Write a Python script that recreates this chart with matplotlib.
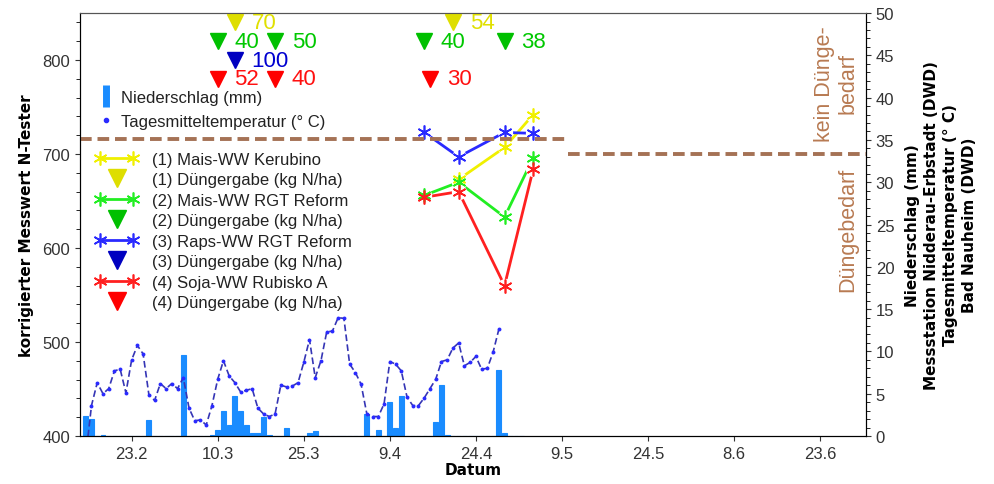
import datetime as dt
import numpy as np
import pandas as pd
import matplotlib
matplotlib.use('Agg')
import matplotlib.pyplot as plt
from matplotlib.lines import Line2D
from matplotlib.legend_handler import HandlerLine2D
from matplotlib.ticker import MultipleLocator

plt.rcParams['font.family'] = ['Liberation Sans', 'DejaVu Sans']

# N-Tester measurements (corrected value)
mess_dates = pd.to_datetime(['2023-04-15', '2023-04-21', '2023-04-29', '2023-05-04'])
mais_kerubino = [np.nan, 673, 707, 742]
mais_rgt = [656, 670, 633, 696]
raps_rgt = [723, 697, 723, 722]
soja_rubisko = [654, 660, 560, 684]

# fertilizer applications (kg N/ha)
dg1_dates = pd.to_datetime(['2023-03-13', '2023-04-20'])
dg1_kg = [70, 54]
dg2_dates = pd.to_datetime(['2023-03-10', '2023-03-20', '2023-04-15', '2023-04-29'])
dg2_kg = [40, 50, 40, 38]
dg3_dates = pd.to_datetime(['2023-03-13'])
dg3_kg = [100]
dg4_dates = pd.to_datetime(['2023-03-10', '2023-03-20', '2023-04-16'])
dg4_kg = [52, 40, 30]

# thresholds
grenze_dates = pd.to_datetime(['2023-02-14', '2023-05-10', '2023-07-01'])
grenze_werte = [716, 700]

# precipitation (mm), days without entry = 0
rain_days = pd.to_datetime(['2023-02-15', '2023-02-16', '2023-02-18', '2023-02-26', '2023-03-04',
                            '2023-03-09', '2023-03-10', '2023-03-11', '2023-03-12', '2023-03-13',
                            '2023-03-14', '2023-03-15', '2023-03-16', '2023-03-17', '2023-03-18',
                            '2023-03-19', '2023-03-22', '2023-03-26', '2023-03-27', '2023-04-05',
                            '2023-04-07', '2023-04-09', '2023-04-10', '2023-04-11', '2023-04-17',
                            '2023-04-18', '2023-04-19', '2023-04-28', '2023-04-29'])
rain_mm = [2.4, 2.0, 0.15, 1.85, 9.6, 0.15, 0.7, 3.0, 1.3, 4.7,
           2.9, 1.3, 0.4, 0.4, 2.3, 0.15, 0.9, 0.4, 0.6, 2.6,
           0.7, 4.0, 1.0, 4.7, 1.6, 6.0, 0.15, 7.8, 0.4]
rain = pd.Series(0.0, index=pd.date_range('2023-02-14', '2023-05-02'))
rain[rain_days] = rain_mm

# daily mean temperature (°C), from 15.2.
temp = [-2.4, 3.6, 6.3, 5.0, 5.6, 7.7, 7.9, 5.1, 9.0, 10.7, 9.7, 4.9, 4.2, 6.2,
        5.6, 6.2, 5.6, 6.9, 3.3, 1.8, 1.9, 1.3, 3.6, 6.7, 8.9, 7.1, 6.3, 5.2, 5.4, 5.6,
        3.3, 2.6, 2.3, 2.6, 6.0, 5.8, 5.9, 6.3, 8.7, 11.4, 6.9, 8.9, 12.3, 12.4, 14.0,
        13.9, 8.5, 7.5, 6.1, 2.6, 2.3, 2.3, 3.8, 8.8, 8.5, 7.7, 4.6, 3.6, 3.6, 4.5,
        5.6, 6.7, 8.8, 9.0, 10.4, 11.0, 8.3, 8.7, 9.4, 7.9, 8.0, 9.9, 12.6]
temp_dates = pd.date_range('2023-02-15', periods=len(temp))

fig = plt.figure(figsize=(9.94, 4.85), dpi=100)
ax = fig.add_axes([0.0805, 0.099, 0.7907, 0.872])
ax2 = ax.twinx()
ax.set_zorder(ax2.get_zorder() + 1)
ax.patch.set_visible(False)

bold = dict(fontsize=11, fontweight='bold', family='DejaVu Sans')

# right axis: weather
ax2.bar(rain.index, rain.values, width=0.85, color='#1a8cff', edgecolor='#1a8cff', linewidth=0.8)
ax2.plot(temp_dates, temp, color='#3535b5', ls=(0, (4, 2)), lw=1.2,
         marker='o', ms=2.8, mfc='#2a2aff', mec='none')
ax2.set_ylim(0, 50)
ax2.yaxis.set_major_locator(MultipleLocator(5))
ax2.yaxis.set_minor_locator(MultipleLocator(1))
ax2.set_ylabel('Niederschlag (mm)\nMessstation Nidderau-Erbstadt (DWD)\nTagesmitteltemperatur (° C)\nBad Nauheim (DWD)',
               labelpad=8, linespacing=1.32, **bold)

# left axis: N-Tester
ast = (6, 2, 0)
serien = [(mais_kerubino, '#f0f000', '(1) Mais-WW Kerubino'),
          (mais_rgt, '#22ee22', '(2) Mais-WW RGT Reform'),
          (raps_rgt, '#2a2aff', '(3) Raps-WW RGT Reform'),
          (soja_rubisko, '#ff2020', '(4) Soja-WW Rubisko A')]
for werte, col, lab in serien:
    ax.plot(mess_dates, werte, color=col, lw=2)
for werte, col, lab in serien:
    ax.plot(mess_dates, werte, ls='none', marker='o', ms=11, mfc='white', mec='none')
for werte, col, lab in serien:
    ax.plot(mess_dates, werte, ls='none', color=col, marker=ast, ms=10, mew=1.2)

duenger = [(dg1_dates, dg1_kg, '#dede00', '#e0e000', 840),
           (dg2_dates, dg2_kg, '#00c000', '#00c800', 820),
           (dg3_dates, dg3_kg, '#0000c0', '#0000d0', 800),
           (dg4_dates, dg4_kg, '#ff0000', '#ff1010', 780)]
for d, kg, mcol, tcol, lvl in duenger:
    ax.plot(d, [lvl] * len(d), ls='none', marker='v', ms=11, color=mcol)
    for di, k in zip(d, kg):
        ax.annotate(str(k), (di, lvl), xytext=(12, 0), textcoords='offset points',
                    va='center', ha='left', fontsize=16, color=tcol)

brown = '#a57255'
ax.hlines(grenze_werte[0], grenze_dates[0], grenze_dates[1], colors=brown, lw=2.8, ls=(0, (3, 1.5)))
ax.hlines(grenze_werte[1], grenze_dates[1], grenze_dates[2], colors=brown, lw=2.8, ls=(0, (3, 1.5)))
ax.text(0.962, 0.835, 'kein Dünge-\nbedarf', transform=ax.transAxes, rotation=90,
        ha='center', va='center', fontsize=15.5, color='#b87a52', multialignment='center')
ax.text(0.977, 0.49, 'Düngebedarf', transform=ax.transAxes, rotation=90,
        ha='center', va='center', fontsize=15.5, color='#b87a52')

ax.set_ylim(400, 850)
ax.yaxis.set_minor_locator(MultipleLocator(20))
ax.set_yticks([400, 500, 600, 700, 800])
ax.set_xlim(dt.date(2023, 2, 14), dt.date(2023, 7, 1))
xt = pd.date_range('2023-02-23', periods=9, freq='15D')
ax.set_xticks(xt)
ax.set_xticklabels([f'{d.day}.{d.month}' for d in xt])
ax.set_ylabel('korrigierter Messwert N-Tester', labelpad=6, **bold)
ax.set_xlabel('Datum', labelpad=1, **bold)

for a in (ax, ax2):
    a.tick_params(labelsize=12, labelcolor='#333333', color='#333333')
    a.tick_params(which='minor', length=3)
    a.spines['top'].set_color('#555555')

# legends
h1 = [Line2D([], [], ls='none', marker='|', ms=16, mew=5, color='#1a8cff'),
      Line2D([], [], ls='none', marker='o', ms=3, color='#2a2aff')]
leg1 = ax.legend(h1, ['Niederschlag (mm)', 'Tagesmitteltemperatur (° C)'], loc='upper left',
                 bbox_to_anchor=(0.005, 0.853), frameon=False, fontsize=12, handlelength=0.8,
                 handletextpad=0.5, labelspacing=0.5, labelcolor='#222222')
ax.add_artist(leg1)

h2, l2, hmap = [], [], {}
for (werte, col, lab), (d, kg, mcol, tcol, lvl) in zip(serien, duenger):
    h2.append(Line2D([], [], color=col, lw=2, marker=ast, ms=10, mew=1.2))
    l2.append(lab)
    tri = Line2D([], [], ls='none', marker='v', ms=13, color=mcol)
    h2.append(tri)
    hmap[tri] = HandlerLine2D(numpoints=1)
    l2.append(lab[:4] + 'Düngergabe (kg N/ha)')
ax.legend(h2, l2, handler_map=hmap, loc='upper left', bbox_to_anchor=(0.0, 0.708),
          frameon=False, fontsize=12, numpoints=2, handlelength=2.6, handletextpad=0.8,
          labelspacing=0.33, labelcolor='#222222')

fig.savefig('out.png', dpi=100)
